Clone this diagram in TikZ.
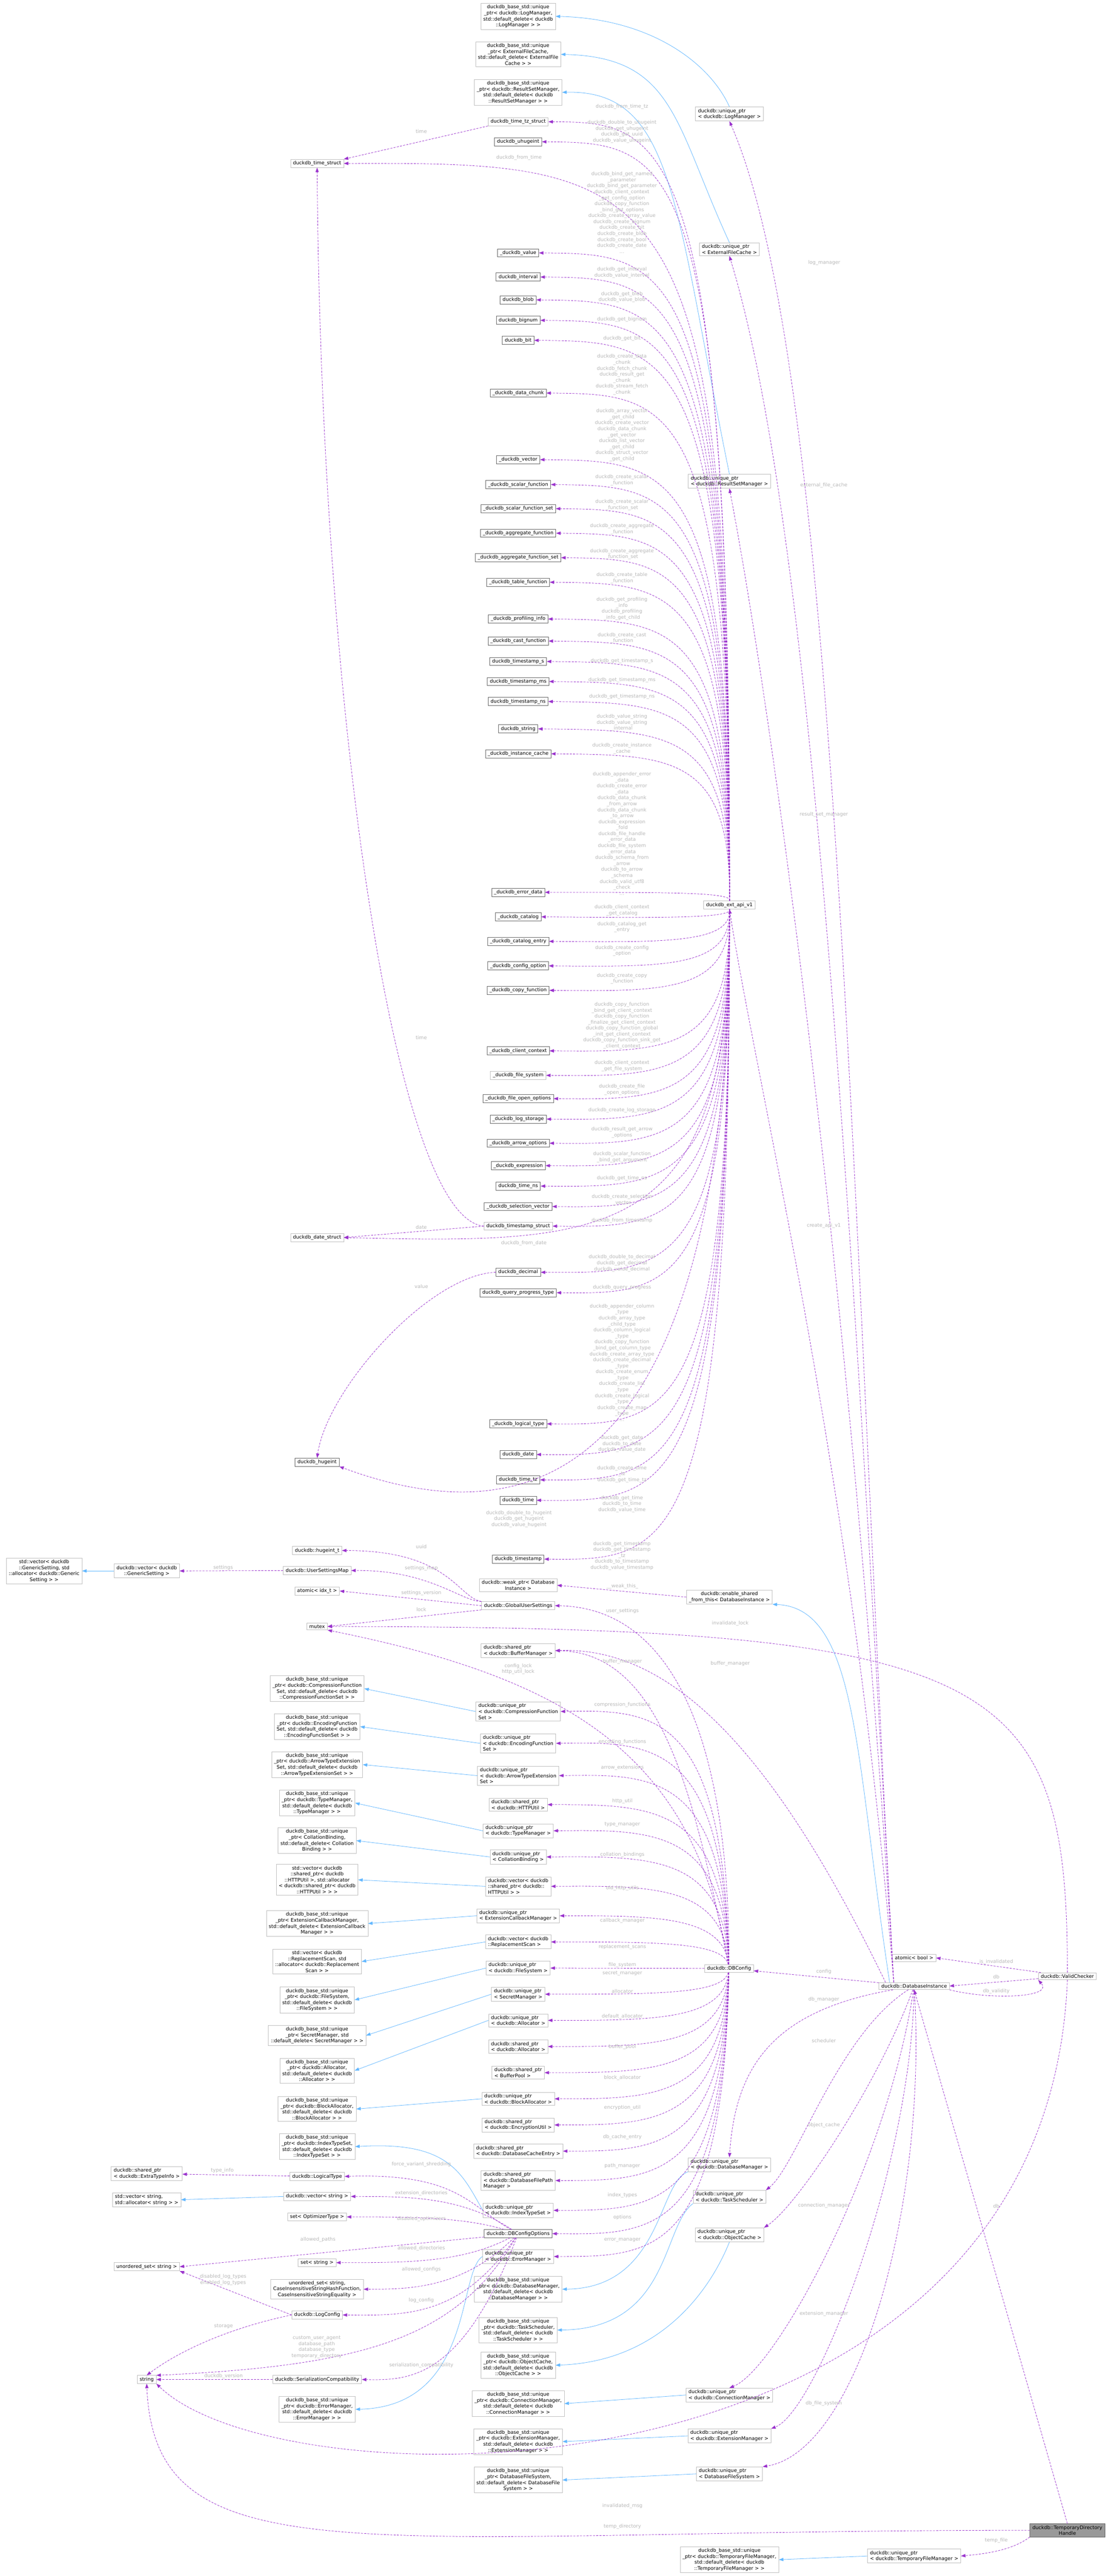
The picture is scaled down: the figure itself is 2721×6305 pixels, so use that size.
\documentclass[tikz,border=0pt]{standalone}
\usepackage{fontspec}
\setmainfont{DejaVu Sans}
\usetikzlibrary{arrows.meta}
\definecolor{lgr}{HTML}{BFBFBF}
\definecolor{dgr}{HTML}{666666}
\definecolor{pur}{HTML}{9A32CD}
\definecolor{blu}{HTML}{63B8FF}
\definecolor{lab}{HTML}{B8B8B8}
\definecolor{hl}{HTML}{999999}
\tikzset{
 box/.style={draw=lgr,fill=white,line width=0.9pt,align=center,inner xsep=6pt,inner ysep=4pt,font=\fontsize{12}{14.6}\selectfont},
 boxd/.style={box,draw=dgr},
 boxl/.style={box,align=left},
 lbl/.style={text=lab,align=center,inner sep=0pt,font=\fontsize{12}{14.6}\selectfont},
 dep/.style={draw=pur,dash pattern=on 5pt off 3pt,line width=1pt,-{Triangle[length=11pt,width=8pt]}},
 inh/.style={draw=blu,line width=1pt,-{Triangle[length=11pt,width=8pt]}}
}
\newcommand\apiU[2]{\draw[dep] (api) .. controls (1790,#2) and (1640,#2) .. (#1.east);}
\newcommand\cfgE[2]{\draw[dep] (dbconfig) .. controls (1770,#2) and (1600,#2) .. (#1.east);}
\newcommand\optE[2]{\draw[dep] (dbco) .. controls (1130,#2) and (1000,#2) .. (#1.east);}
\begin{document}
\begin{tikzpicture}[x=1pt,y=-1pt]
\path[use as bounding box,fill=white] (0,0) rectangle (2721,6305);
% ---------- top base nodes
\node[box] (bLog) at (1268,40) {duckdb\_base\_std::unique\\\_ptr< duckdb::LogManager,\\std::default\_delete< duckdb\\::LogManager > >};
\node[box] (bEFC) at (1268,133) {duckdb\_base\_std::unique\\\_ptr< ExternalFileCache,\\std::default\_delete< ExternalFile\\Cache > >};
\node[box] (bRSM) at (1268,226) {duckdb\_base\_std::unique\\\_ptr< duckdb::ResultSetManager,\\std::default\_delete< duckdb\\::ResultSetManager > >};
\node[boxl] (upLog) at (1785,279) {duckdb::unique\_ptr\\< duckdb::LogManager >};
\node[boxl] (upEFC) at (1785,610) {duckdb::unique\_ptr\\< ExternalFileCache >};
\node[boxl] (upRSM) at (1785,1178) {duckdb::unique\_ptr\\< duckdb::ResultSetManager >};
\node[box] (api) at (1785,2215) {duckdb\_ext\_api\_v1};
% ---------- C api column
\node[box] (timetz) at (1268,298) {duckdb\_time\_tz\_struct};
\node[boxd] (uhuge) at (1268,347) {duckdb\_uhugeint};
\node[box] (timest) at (776,400) {duckdb\_time\_struct};
\node[boxd] (val) at (1268,619) {\_duckdb\_value};
\node[boxd] (interval) at (1268,678) {duckdb\_interval};
\node[boxd] (blob) at (1268,734) {duckdb\_blob};
\node[boxd] (bignum) at (1268,784) {duckdb\_bignum};
\node[boxd] (bit) at (1268,833) {duckdb\_bit};
\node[boxd] (chunk) at (1268,962) {\_duckdb\_data\_chunk};
\node[boxd] (vector) at (1268,1125) {\_duckdb\_vector};
\node[boxd] (sfun) at (1268,1186) {\_duckdb\_scalar\_function};
\node[boxd] (sfunset) at (1268,1245) {\_duckdb\_scalar\_function\_set};
\node[boxd] (afun) at (1268,1305) {\_duckdb\_aggregate\_function};
\node[boxd] (afunset) at (1268,1365) {\_duckdb\_aggregate\_function\_set};
\node[boxd] (tfun) at (1268,1425) {\_duckdb\_table\_function};
\node[boxd] (prof) at (1268,1515) {\_duckdb\_profiling\_info};
\node[boxd] (cast) at (1268,1569) {\_duckdb\_cast\_function};
\node[boxd] (tss) at (1268,1619) {duckdb\_timestamp\_s};
\node[boxd] (tsms) at (1268,1668) {duckdb\_timestamp\_ms};
\node[boxd] (tsns) at (1268,1717) {duckdb\_timestamp\_ns};
\node[boxd] (str) at (1268,1784) {duckdb\_string};
\node[boxd] (icache) at (1268,1845) {\_duckdb\_instance\_cache};
\node[boxd] (err) at (1268,2184) {\_duckdb\_error\_data};
\node[boxd] (cat) at (1268,2244) {\_duckdb\_catalog};
\node[boxd] (catent) at (1268,2304) {\_duckdb\_catalog\_entry};
\node[boxd] (cfgopt) at (1268,2364) {\_duckdb\_config\_option};
\node[boxd] (copyf) at (1268,2424) {\_duckdb\_copy\_function};
\node[boxd] (cctx) at (1268,2572) {\_duckdb\_client\_context};
\node[box] (fs) at (1268,2632) {\_duckdb\_file\_system};
\node[boxd] (fopen) at (1268,2689) {\_duckdb\_file\_open\_options};
\node[boxd] (logst) at (1268,2739) {\_duckdb\_log\_storage};
\node[boxd] (arrow) at (1268,2798) {\_duckdb\_arrow\_options};
\node[boxd] (expr) at (1268,2853) {\_duckdb\_expression};
\node[boxd] (timens) at (1268,2903) {duckdb\_time\_ns};
\node[boxd] (selvec) at (1268,2953) {\_duckdb\_selection\_vector};
\node[box] (tsstruct) at (1268,3001) {duckdb\_timestamp\_struct};
\node[box] (datestruct) at (776,3029) {duckdb\_date\_struct};
\node[boxd] (decimal) at (1268,3114) {duckdb\_decimal};
\node[boxd] (qprog) at (1268,3164) {duckdb\_query\_progress\_type};
\node[boxd] (ltype) at (1268,3485) {\_duckdb\_logical\_type};
\node[boxd] (date) at (1268,3560) {duckdb\_date};
\node[boxd] (hugeint) at (776,3579) {duckdb\_hugeint};
\node[boxd] (timetzv) at (1268,3622) {duckdb\_time\_tz};
\node[boxd] (time) at (1268,3672) {duckdb\_time};
\node[boxd] (timestamp) at (1268,3816) {duckdb\_timestamp};
\node[box] (weak) at (1268,3880) {duckdb::weak\_ptr< Database\\Instance >};
\node[box] (enable) at (1785,3909) {duckdb::enable\_shared\\\_from\_this< DatabaseInstance >};
\node[box] (gus) at (1268,3930) {duckdb::GlobalUserSettings};
% ---------- settings
\node[box] (svGS) at (108,3845) {std::vector< duckdb\\::GenericSetting, std\\::allocator< duckdb::Generic\\Setting > >};
\node[box] (dvGS) at (359,3845) {duckdb::vector< duckdb\\::GenericSetting >};
\node[box] (hugeintt) at (776,3795) {duckdb::hugeint\_t};
\node[box] (usm) at (776,3844) {duckdb::UserSettingsMap};
\node[box] (aidx) at (776,3894) {atomic< idx\_t >};
\node[box] (mutex) at (776,3981) {mutex};
% ---------- DBConfig column
\node[boxl] (shBM) at (1268,4040) {duckdb::shared\_ptr\\< duckdb::BufferManager >};
\node[box] (bComp) at (776,4133) {duckdb\_base\_std::unique\\\_ptr< duckdb::CompressionFunction\\Set, std::default\_delete< duckdb\\::CompressionFunctionSet > >};
\node[boxl] (upComp) at (1268,4189) {duckdb::unique\_ptr\\< duckdb::CompressionFunction\\Set >};
\node[box] (bEnc) at (776,4226) {duckdb\_base\_std::unique\\\_ptr< duckdb::EncodingFunction\\Set, std::default\_delete< duckdb\\::EncodingFunctionSet > >};
\node[boxl] (upEnc) at (1268,4267) {duckdb::unique\_ptr\\< duckdb::EncodingFunction\\Set >};
\node[box] (bArrow) at (776,4319) {duckdb\_base\_std::unique\\\_ptr< duckdb::ArrowTypeExtension\\Set, std::default\_delete< duckdb\\::ArrowTypeExtensionSet > >};
\node[boxl] (upArrow) at (1268,4346) {duckdb::unique\_ptr\\< duckdb::ArrowTypeExtension\\Set >};
\node[boxl] (shHTTP) at (1268,4417) {duckdb::shared\_ptr\\< duckdb::HTTPUtil >};
\node[box] (bType) at (776,4413) {duckdb\_base\_std::unique\\\_ptr< duckdb::TypeManager,\\std::default\_delete< duckdb\\::TypeManager > >};
\node[boxl] (upType) at (1268,4481) {duckdb::unique\_ptr\\< duckdb::TypeManager >};
\node[box] (bColl) at (776,4505) {duckdb\_base\_std::unique\\\_ptr< CollationBinding,\\std::default\_delete< Collation\\Binding > >};
\node[boxl] (upColl) at (1268,4545) {duckdb::unique\_ptr\\< CollationBinding >};
\node[box] (svHTTP) at (776,4601) {std::vector< duckdb\\::shared\_ptr< duckdb\\::HTTPUtil >, std::allocator\\< duckdb::shared\_ptr< duckdb\\::HTTPUtil > > >};
\node[boxl] (dvHTTP) at (1268,4617) {duckdb::vector< duckdb\\::shared\_ptr< duckdb::\\HTTPUtil > >};
\node[box] (bExtCb) at (776,4708) {duckdb\_base\_std::unique\\\_ptr< ExtensionCallbackManager,\\std::default\_delete< ExtensionCallback\\Manager > >};
\node[boxl] (upExtCb) at (1268,4689) {duckdb::unique\_ptr\\< ExtensionCallbackManager >};
\node[boxl] (dvRS) at (1268,4753) {duckdb::vector< duckdb\\::ReplacementScan >};
\node[box] (svRS) at (776,4801) {std::vector< duckdb\\::ReplacementScan, std\\::allocator< duckdb::Replacement\\Scan > >};
\node[boxl] (upFS) at (1268,4817) {duckdb::unique\_ptr\\< duckdb::FileSystem >};
\node[box] (bFS) at (776,4895) {duckdb\_base\_std::unique\\\_ptr< duckdb::FileSystem,\\std::default\_delete< duckdb\\::FileSystem > >};
\node[boxl] (upSecret) at (1268,4881) {duckdb::unique\_ptr\\< SecretManager >};
\node[box] (bSecret) at (776,4982) {duckdb\_base\_std::unique\\\_ptr< SecretManager, std\\::default\_delete< SecretManager > >};
\node[boxl] (upAlloc) at (1268,4945) {duckdb::unique\_ptr\\< duckdb::Allocator >};
\node[boxl] (shAlloc) at (1268,5009) {duckdb::shared\_ptr\\< duckdb::Allocator >};
\node[box] (bAlloc) at (776,5068) {duckdb\_base\_std::unique\\\_ptr< duckdb::Allocator,\\std::default\_delete< duckdb\\::Allocator > >};
\node[boxl] (shBP) at (1268,5073) {duckdb::shared\_ptr\\< BufferPool >};
\node[boxl] (upBlock) at (1268,5137) {duckdb::unique\_ptr\\< duckdb::BlockAllocator >};
\node[box] (bBlock) at (776,5162) {duckdb\_base\_std::unique\\\_ptr< duckdb::BlockAllocator,\\std::default\_delete< duckdb\\::BlockAllocator > >};
\node[boxl] (shEnc) at (1268,5201) {duckdb::shared\_ptr\\< duckdb::EncryptionUtil >};
\node[box] (bIndex) at (776,5254) {duckdb\_base\_std::unique\\\_ptr< duckdb::IndexTypeSet,\\std::default\_delete< duckdb\\::IndexTypeSet > >};
\node[boxl] (shDCE) at (1268,5265) {duckdb::shared\_ptr\\< duckdb::DatabaseCacheEntry >};
\node[boxl] (shExtra) at (359,5320) {duckdb::shared\_ptr\\< duckdb::ExtraTypeInfo >};
\node[box] (ltypeD) at (776,5327) {duckdb::LogicalType};
\node[boxl] (shDFPM) at (1268,5337) {duckdb::shared\_ptr\\< duckdb::DatabaseFilePath\\Manager >};
\node[boxl] (svstr) at (359,5384) {std::vector< string,\\std::allocator< string > >};
\node[box] (vstr) at (776,5376) {duckdb::vector< string >};
\node[boxl] (upIndex) at (1268,5410) {duckdb::unique\_ptr\\< duckdb::IndexTypeSet >};
\node[box] (setopt) at (776,5426) {set< OptimizerType >};
\node[boxd] (dbco) at (1268,5467) {duckdb::DBConfigOptions};
\node[boxl] (upErr) at (1268,5523) {duckdb::unique\_ptr\\< duckdb::ErrorManager >};
\node[box] (uset) at (359,5548) {unordered\_set< string >};
\node[box] (setstr) at (776,5538) {set< string >};
\node[box] (usetci) at (776,5603) {unordered\_set< string,\\CaseInsensitiveStringHashFunction,\\CaseInsensitiveStringEquality >};
\node[box] (bDBM) at (1268,5603) {duckdb\_base\_std::unique\\\_ptr< duckdb::DatabaseManager,\\std::default\_delete< duckdb\\::DatabaseManager > >};
\node[box] (logcfg) at (776,5666) {duckdb::LogConfig};
\node[box] (bTS) at (1268,5703) {duckdb\_base\_std::unique\\\_ptr< duckdb::TaskScheduler,\\std::default\_delete< duckdb\\::TaskScheduler > >};
\node[box] (bOC) at (1268,5789) {duckdb\_base\_std::unique\\\_ptr< duckdb::ObjectCache,\\std::default\_delete< duckdb\\::ObjectCache > >};
\node[box] (string) at (359,5824) {string};
\node[box] (sercomp) at (776,5824) {duckdb::SerializationCompatibility};
\node[box] (bErr) at (776,5897) {duckdb\_base\_std::unique\\\_ptr< duckdb::ErrorManager,\\std::default\_delete< duckdb\\::ErrorManager > >};
\node[box] (bCM) at (1268,5883) {duckdb\_base\_std::unique\\\_ptr< duckdb::ConnectionManager,\\std::default\_delete< duckdb\\::ConnectionManager > >};
\node[box] (bEM) at (1268,5976) {duckdb\_base\_std::unique\\\_ptr< duckdb::ExtensionManager,\\std::default\_delete< duckdb\\::ExtensionManager > >};
\node[box] (bDFS) at (1268,6070) {duckdb\_base\_std::unique\\\_ptr< DatabaseFileSystem,\\std::default\_delete< DatabaseFile\\System > >};
% ---------- right part
\node[box] (dbconfig) at (1784,4818) {duckdb::DBConfig};
\node[box] (dbi) at (2237,4861) {duckdb::DatabaseInstance};
\node[box] (vc) at (2612,4837) {duckdb::ValidChecker};
\node[box] (abool) at (2237,4792) {atomic< bool >};
\node[boxl] (upDBM) at (1785,5298) {duckdb::unique\_ptr\\< duckdb::DatabaseManager >};
\node[boxl] (upTS) at (1785,5377) {duckdb::unique\_ptr\\< duckdb::TaskScheduler >};
\node[boxl] (upOC) at (1785,5470) {duckdb::unique\_ptr\\< duckdb::ObjectCache >};
\node[boxl] (upCM) at (1785,5862) {duckdb::unique\_ptr\\< duckdb::ConnectionManager >};
\node[boxl] (upEM) at (1785,5962) {duckdb::unique\_ptr\\< duckdb::ExtensionManager >};
\node[boxl] (upDFS) at (1785,6055) {duckdb::unique\_ptr\\< DatabaseFileSystem >};
\node[box,fill=hl,draw=dgr] (tdh) at (2612,6193) {duckdb::TemporaryDirectory\\Handle};
\node[boxl] (upTFM) at (2237,6256) {duckdb::unique\_ptr\\< duckdb::TemporaryFileManager >};
\node[box] (bTFM) at (1785,6265) {duckdb\_base\_std::unique\\\_ptr< duckdb::TemporaryFileManager,\\std::default\_delete< duckdb\\::TemporaryFileManager > >};

% ================= edges
% inheritance
\draw[inh] (upLog.north) .. controls (1740,160) and (1600,46) .. (bLog.east);
\draw[inh] (upEFC.north) .. controls (1650,300) and (1650,140) .. (bEFC.east);
\draw[inh] (upRSM.north) .. controls (1650,500) and (1650,220) .. (bRSM.east);
\draw[inh] (dvGS) -- (svGS);
\foreach \u/\b in {upComp/bComp,upEnc/bEnc,upArrow/bArrow,upType/bType,upColl/bColl,dvHTTP/svHTTP,upExtCb/bExtCb,dvRS/svRS,upFS/bFS,upSecret/bSecret,upAlloc/bAlloc,upBlock/bBlock,vstr/svstr,upCM/bCM,upEM/bEM,upDFS/bDFS,upTFM/bTFM}
  \draw[inh] (\u.west) -- (\b.east);
\draw[inh] (upIndex.west) .. controls (1130,5320) and (1100,5240) .. (bIndex.east);
\draw[inh] (upErr.west) .. controls (1120,5560) and (1160,5890) .. (bErr.east);
\draw[inh] (upDBM.south west) .. controls (1610,5340) and (1620,5600) .. (bDBM.east);
\draw[inh] (upTS.south west) .. controls (1620,5450) and (1640,5700) .. (bTS.east);
\draw[inh] (upOC.south) .. controls (1740,5600) and (1620,5780) .. (bOC.east);
\draw[inh] ([xshift=-60pt]dbi.north) .. controls (2093,4300) and (2100,3935) .. (enable.south east);

% api edges (upward)
\draw[dep] (api) .. controls (1790,300) and (1620,300) .. (timetz.east);
\apiU{uhuge}{350}
\draw[dep] (api) .. controls (1790,410) and (1640,398) .. (timest.east);
\apiU{val}{622}
\apiU{interval}{681}
\apiU{blob}{737}
\apiU{bignum}{787}
\apiU{bit}{836}
\apiU{chunk}{965}
\apiU{vector}{1128}
\apiU{sfun}{1189}
\apiU{sfunset}{1248}
\apiU{afun}{1308}
\apiU{afunset}{1368}
\apiU{tfun}{1428}
\apiU{prof}{1518}
\apiU{cast}{1572}
\apiU{tss}{1622}
\apiU{tsms}{1671}
\apiU{tsns}{1720}
\apiU{str}{1787}
\apiU{icache}{1848}
\apiU{err}{2184}
\apiU{cat}{2247}
\apiU{catent}{2307}
\apiU{cfgopt}{2367}
\apiU{copyf}{2427}
\apiU{cctx}{2575}
\apiU{fs}{2635}
\apiU{fopen}{2692}
\apiU{logst}{2742}
\apiU{arrow}{2801}
\apiU{expr}{2856}
\apiU{timens}{2906}
\apiU{selvec}{2956}
\apiU{tsstruct}{3004}
\draw[dep] (api) .. controls (1790,3040) and (1500,3045) .. (datestruct.east);
\apiU{decimal}{3117}
\apiU{qprog}{3167}
\apiU{ltype}{3488}
\apiU{date}{3563}
\apiU{timetzv}{3625}
\apiU{time}{3675}
\draw[dep] (api) .. controls (1790,3700) and (1250,3745) .. (hugeint.south east);
\apiU{timestamp}{3819}

% struct edges
\draw[dep] (timetz.south west) -- (timest.north east);
\draw[dep] (tsstruct.west) .. controls (960,2980) and (785,1700) .. (timest.south);
\draw[dep] (tsstruct.west) -- (datestruct.east);
\draw[dep] (decimal.west) .. controls (1050,3120) and (800,3400) .. (hugeint.north);

% settings
\draw[dep] (gus.north west) .. controls (1120,3910) and (1100,3795) .. (hugeintt.east);
\draw[dep] (gus.north west) .. controls (1130,3920) and (1050,3842) .. (usm.east);
\draw[dep] (gus.west) -- (aidx.east);
\draw[dep] (gus.south west) -- (mutex.east);
\draw[dep] (usm.west) -- (dvGS.east);
\draw[dep] (enable.west) -- (weak.east);
\draw[dep] (dbconfig) .. controls (1784,4200) and (1620,3935) .. (gus.east);

% DatabaseInstance
\draw[dep] (dbi) -- (dbconfig);
\draw[dep] ([xshift=-50pt]dbi.north) .. controls (2085,3000) and (2050,900) .. (upLog.south);
\draw[dep] ([xshift=-50pt]dbi.north) .. controls (2085,3000) and (1990,1300) .. (upEFC.south);
\draw[dep] ([xshift=-50pt]dbi.north) .. controls (2085,3200) and (1900,1800) .. (upRSM.south);
\draw[dep] ([xshift=-50pt]dbi.north) .. controls (2085,3600) and (1860,2700) .. (api.south);
\draw[dep] ([xshift=-70pt]dbi.north) .. controls (1900,4300) and (1650,4030) .. (shBM.east);
\draw[dep] (dbi) .. controls (1900,4920) and (1800,5050) .. (upDBM.north);
\draw[dep] (dbi) .. controls (2050,4980) and (1950,5300) .. (upTS.north east);
\draw[dep] (dbi) .. controls (2150,5100) and (1950,5400) .. (upOC.north east);
\draw[dep] (dbi) .. controls (2170,5300) and (1900,5800) .. (upCM.north);
\draw[dep] (dbi) .. controls (2230,5300) and (2000,5900) .. (upEM.north east);
\draw[dep] (dbi) .. controls (2270,5400) and (2100,6000) .. (upDFS.north east);
\draw[dep] (dbi.south east) .. controls (2420,4895) and (2580,4890) .. (vc.south west);
% ValidChecker
\draw[dep] (vc) -- (abool.east);
\draw[dep] (vc) -- (dbi.east);
\draw[dep] (vc.north) .. controls (2612,4100) and (2450,3982) .. (mutex.east);
\draw[dep] (vc.south) .. controls (2560,6150) and (700,6142) .. (string.south east);
% TemporaryDirectoryHandle
\draw[dep] (tdh.north) -- (dbi.south);
\draw[dep] (tdh.west) .. controls (900,6193) and (380,6320) .. (string.south);
\draw[dep] (tdh.south west) .. controls (2480,6240) and (2420,6250) .. (upTFM.east);

% DBConfig members
\draw[dep] (dbconfig) .. controls (1700,4400) and (1620,4045) .. (shBM.east);
\draw[dep] (dbconfig) .. controls (1700,4300) and (1400,4110) .. (mutex.south east);
\cfgE{upComp}{4185}
\cfgE{upEnc}{4263}
\cfgE{upArrow}{4342}
\cfgE{shHTTP}{4417}
\cfgE{upType}{4478}
\cfgE{upColl}{4543}
\cfgE{dvHTTP}{4615}
\cfgE{upExtCb}{4689}
\cfgE{dvRS}{4753}
\draw[dep] (dbconfig) -- (upFS.east);
\cfgE{upSecret}{4881}
\cfgE{upAlloc}{4945}
\cfgE{shAlloc}{5009}
\cfgE{shBP}{5073}
\cfgE{upBlock}{5137}
\cfgE{shEnc}{5201}
\cfgE{shDCE}{5265}
\cfgE{shDFPM}{5337}
\cfgE{upIndex}{5410}
\cfgE{dbco}{5470}
\cfgE{upErr}{5523}

% DBConfigOptions members
\draw[dep] (dbco) .. controls (1150,5400) and (1120,5318) .. (ltypeD.east);
\optE{vstr}{5376}
\optE{setopt}{5426}
\draw[dep] (dbco) -- (uset.east);
\optE{setstr}{5538}
\optE{usetci}{5603}
\optE{logcfg}{5668}
\draw[dep] (dbco) .. controls (1120,5720) and (900,5790) .. (string.north east);
\optE{sercomp}{5826}
\draw[dep] (logcfg.west) -- (uset.south east);
\draw[dep] (logcfg.west) .. controls (550,5700) and (430,5760) .. (string.north);
\draw[dep] (sercomp) -- (string);
\draw[dep] (ltypeD) -- (shExtra);

% ================= labels
\node[lbl] (l1) at (1522,261) {duckdb\_from\_time\_tz};
\node[lbl] (l2) at (1522,322) {duckdb\_double\_to\_uhugeint\\duckdb\_get\_uhugeint\\duckdb\_get\_uuid\\duckdb\_value\_uhugeint};
\node[lbl] (l3) at (1270,386) {duckdb\_from\_time};
\node[lbl] (l3b) at (1031,321) {time};
\node[lbl] (l4) at (1522,520) {duckdb\_bind\_get\_named\\\_parameter\\duckdb\_bind\_get\_parameter\\duckdb\_client\_context\\\_get\_config\_option\\duckdb\_copy\_function\\\_bind\_get\_options\\duckdb\_create\_array\_value\\duckdb\_create\_bignum\\duckdb\_create\_bit\\duckdb\_create\_blob\\duckdb\_create\_bool\\duckdb\_create\_date\\...};
\node[lbl] (l5) at (1522,667) {duckdb\_get\_interval\\duckdb\_value\_interval};
\node[lbl] (l6) at (1522,727) {duckdb\_get\_blob\\duckdb\_value\_blob};
\node[lbl] (l7) at (1522,782) {duckdb\_get\_bignum};
\node[lbl] (l8) at (1522,828) {duckdb\_get\_bit};
\node[lbl] (l9) at (1522,917) {duckdb\_create\_data\\\_chunk\\duckdb\_fetch\_chunk\\duckdb\_result\_get\\\_chunk\\duckdb\_stream\_fetch\\\_chunk};
\node[lbl] (l10) at (1522,1065) {duckdb\_array\_vector\\\_get\_child\\duckdb\_create\_vector\\duckdb\_data\_chunk\\\_get\_vector\\duckdb\_list\_vector\\\_get\_child\\duckdb\_struct\_vector\\\_get\_child};
\node[lbl] (l11) at (1522,1175) {duckdb\_create\_scalar\\\_function};
\node[lbl] (l12) at (1522,1236) {duckdb\_create\_scalar\\\_function\_set};
\node[lbl] (l13) at (1522,1295) {duckdb\_create\_aggregate\\\_function};
\node[lbl] (l14) at (1522,1356) {duckdb\_create\_aggregate\\\_function\_set};
\node[lbl] (l15) at (1522,1415) {duckdb\_create\_table\\\_function};
\node[lbl] (l16) at (1522,1490) {duckdb\_get\_profiling\\\_info\\duckdb\_profiling\\\_info\_get\_child};
\node[lbl] (l17) at (1522,1562) {duckdb\_create\_cast\\\_function};
\node[lbl] (l18) at (1522,1618) {duckdb\_get\_timestamp\_s};
\node[lbl] (l19) at (1522,1664) {duckdb\_get\_timestamp\_ms};
\node[lbl] (l20) at (1522,1705) {duckdb\_get\_timestamp\_ns};
\node[lbl] (l21) at (1522,1769) {duckdb\_value\_string\\duckdb\_value\_string\\\_internal};
\node[lbl] (l22) at (1522,1832) {duckdb\_create\_instance\\\_cache};
\node[lbl] (l23) at (1522,2040) {duckdb\_appender\_error\\\_data\\duckdb\_create\_error\\\_data\\duckdb\_data\_chunk\\\_from\_arrow\\duckdb\_data\_chunk\\\_to\_arrow\\duckdb\_expression\\\_fold\\duckdb\_file\_handle\\\_error\_data\\duckdb\_file\_system\\\_error\_data\\duckdb\_schema\_from\\\_arrow\\duckdb\_to\_arrow\\\_schema\\duckdb\_valid\_utf8\\\_check\\...};
\node[lbl] (l24) at (1522,2228) {duckdb\_client\_context\\\_get\_catalog};
\node[lbl] (l25) at (1522,2269) {duckdb\_catalog\_get\\\_entry};
\node[lbl] (l26) at (1522,2327) {duckdb\_create\_config\\\_option};
\node[lbl] (l27) at (1522,2395) {duckdb\_create\_copy\\\_function};
\node[lbl] (l28) at (1522,2510) {duckdb\_copy\_function\\\_bind\_get\_client\_context\\duckdb\_copy\_function\\\_finalize\_get\_client\_context\\duckdb\_copy\_function\_global\\\_init\_get\_client\_context\\duckdb\_copy\_function\_sink\_get\\\_client\_context};
\node[lbl] (l29) at (1522,2609) {duckdb\_client\_context\\\_get\_file\_system};
\node[lbl] (l30) at (1522,2667) {duckdb\_create\_file\\\_open\_options};
\node[lbl] (l31) at (1522,2718) {duckdb\_create\_log\_storage};
\node[lbl] (l32) at (1522,2772) {duckdb\_result\_get\_arrow\\\_options};
\node[lbl] (l33) at (1522,2832) {duckdb\_scalar\_function\\\_bind\_get\_argument};
\node[lbl] (l34) at (1522,2884) {duckdb\_get\_time\_ns};
\node[lbl] (l35) at (1522,2937) {duckdb\_create\_selection\\\_vector};
\node[lbl] (l36) at (1522,2987) {duckdb\_from\_timestamp};
\node[lbl] (l37) at (1282,3043) {duckdb\_from\_date};
\node[lbl] (l38) at (1031,3003) {date};
\node[lbl] (l39) at (1031,2539) {time};
\node[lbl] (l40) at (1031,3149) {value};
\node[lbl] (l41) at (1522,3092) {duckdb\_double\_to\_decimal\\duckdb\_get\_decimal\\duckdb\_value\_decimal};
\node[lbl] (l42) at (1522,3151) {duckdb\_query\_progress};
\node[lbl] (l43) at (1522,3335) {duckdb\_appender\_column\\\_type\\duckdb\_array\_type\\\_child\_type\\duckdb\_column\_logical\\\_type\\duckdb\_copy\_function\\\_bind\_get\_column\_type\\duckdb\_create\_array\_type\\duckdb\_create\_decimal\\\_type\\duckdb\_create\_enum\\\_type\\duckdb\_create\_list\\\_type\\duckdb\_create\_logical\\\_type\\duckdb\_create\_map\\\_type\\...};
\node[lbl] (l44) at (1522,3534) {duckdb\_get\_date\\duckdb\_to\_date\\duckdb\_value\_date};
\node[lbl] (l45) at (1522,3608) {duckdb\_create\_time\\\_tz\\duckdb\_get\_time\_tz};
\node[lbl] (l46) at (1522,3681) {duckdb\_get\_time\\duckdb\_to\_time\\duckdb\_value\_time};
\node[lbl] (l47) at (1270,3718) {duckdb\_double\_to\_hugeint\\duckdb\_get\_hugeint\\duckdb\_value\_hugeint};
\node[lbl] (l48) at (1522,3808) {duckdb\_get\_timestamp\\duckdb\_get\_timestamp\\\_tz\\duckdb\_to\_timestamp\\duckdb\_value\_timestamp};
\node[lbl] (l49) at (1523,3883) {\_\_weak\_this\_};
\node[lbl] (l50) at (1523,3943) {user\_settings};
\node[lbl] (l51) at (1787,3974) {invalidate\_lock};
\node[lbl] (l52) at (2016,3000) {create\_api\_v1};
\node[lbl] (l53) at (2017,643) {log\_manager};
\node[lbl] (l54) at (2016,1188) {external\_file\_cache};
\node[lbl] (l55) at (2016,1993) {result\_set\_manager};
\node[lbl] (l56) at (1031,3786) {uuid};
\node[lbl] (l57) at (1031,3838) {settings\_map};
\node[lbl] (l58) at (1031,3899) {settings\_version};
\node[lbl] (l59) at (1031,3939) {lock};
\node[lbl] (l60) at (546,3837) {settings};
\node[lbl] (l61) at (1268,4085) {config\_lock\\http\_util\_lock};
\node[lbl] (l62) at (1523,4067) {buffer\_manager};
\node[lbl] (l63) at (1787,4072) {buffer\_manager};
\node[lbl] (l64) at (1523,4173) {compression\_functions};
\node[lbl] (l65) at (1523,4264) {encoding\_functions};
\node[lbl] (l66) at (1523,4326) {arrow\_extensions};
\node[lbl] (l67) at (1523,4409) {http\_util};
\node[lbl] (l68) at (1523,4465) {type\_manager};
\node[lbl] (l69) at (1523,4540) {collation\_bindings};
\node[lbl] (l70) at (1523,4622) {old\_http\_utils};
\node[lbl] (l71) at (1523,4701) {callback\_manager};
\node[lbl] (l72) at (1523,4765) {replacement\_scans};
\node[lbl] (l73) at (1523,4810) {file\_system};
\node[lbl] (l74) at (1523,4830) {secret\_manager};
\node[lbl] (l75) at (1523,4874) {allocator};
\node[lbl] (l76) at (1523,4936) {default\_allocator};
\node[lbl] (l77) at (1523,5010) {buffer\_pool};
\node[lbl] (l78) at (1523,5086) {block\_allocator};
\node[lbl] (l79) at (1523,5159) {encryption\_util};
\node[lbl] (l80) at (1523,5231) {db\_cache\_entry};
\node[lbl] (l81) at (1523,5301) {path\_manager};
\node[lbl] (l82) at (1523,5373) {index\_types};
\node[lbl] (l83) at (1523,5427) {options};
\node[lbl] (l84) at (1523,5483) {error\_manager};
\node[lbl] (l85) at (2016,4825) {config};
\node[lbl] (l86) at (2016,4894) {db\_manager};
\node[lbl] (l87) at (2016,4995) {scheduler};
\node[lbl] (l88) at (2016,5202) {object\_cache};
\node[lbl] (l89) at (2016,5398) {connection\_manager};
\node[lbl] (l90) at (2016,5663) {extension\_manager};
\node[lbl] (l91) at (2016,5883) {db\_file\_system};
\node[lbl] (l92) at (2438,4802) {is\_invalidated};
\node[lbl] (l93) at (2438,4838) {db};
\node[lbl] (l94) at (2438,4874) {db\_validity};
\node[lbl] (l95) at (2438,5399) {db};
\node[lbl] (l96) at (1523,6134) {invalidated\_msg};
\node[lbl] (l97) at (1523,6184) {temp\_directory};
\node[lbl] (l98) at (2438,6218) {temp\_file};
\node[lbl] (l99) at (544,5313) {type\_info};
\node[lbl] (l100) at (1031,5298) {force\_variant\_shredding};
\node[lbl] (l101) at (1031,5368) {extension\_directories};
\node[lbl] (l102) at (1031,5431) {disabled\_optimizers};
\node[lbl] (l103) at (778,5482) {allowed\_paths};
\node[lbl] (l104) at (1031,5503) {allowed\_directories};
\node[lbl] (l105) at (1031,5555) {allowed\_configs};
\node[lbl] (l106) at (546,5580) {disabled\_log\_types\\enabled\_log\_types};
\node[lbl] (l107) at (1031,5630) {log\_config};
\node[lbl] (l108) at (547,5693) {storage};
\node[lbl] (l109) at (775,5745) {custom\_user\_agent\\database\_path\\database\_type\\temporary\_directory};
\node[lbl] (l110) at (1031,5789) {serialization\_compatibility};
\node[lbl] (l111) at (547,5816) {duckdb\_version};
\end{tikzpicture}
\end{document}
